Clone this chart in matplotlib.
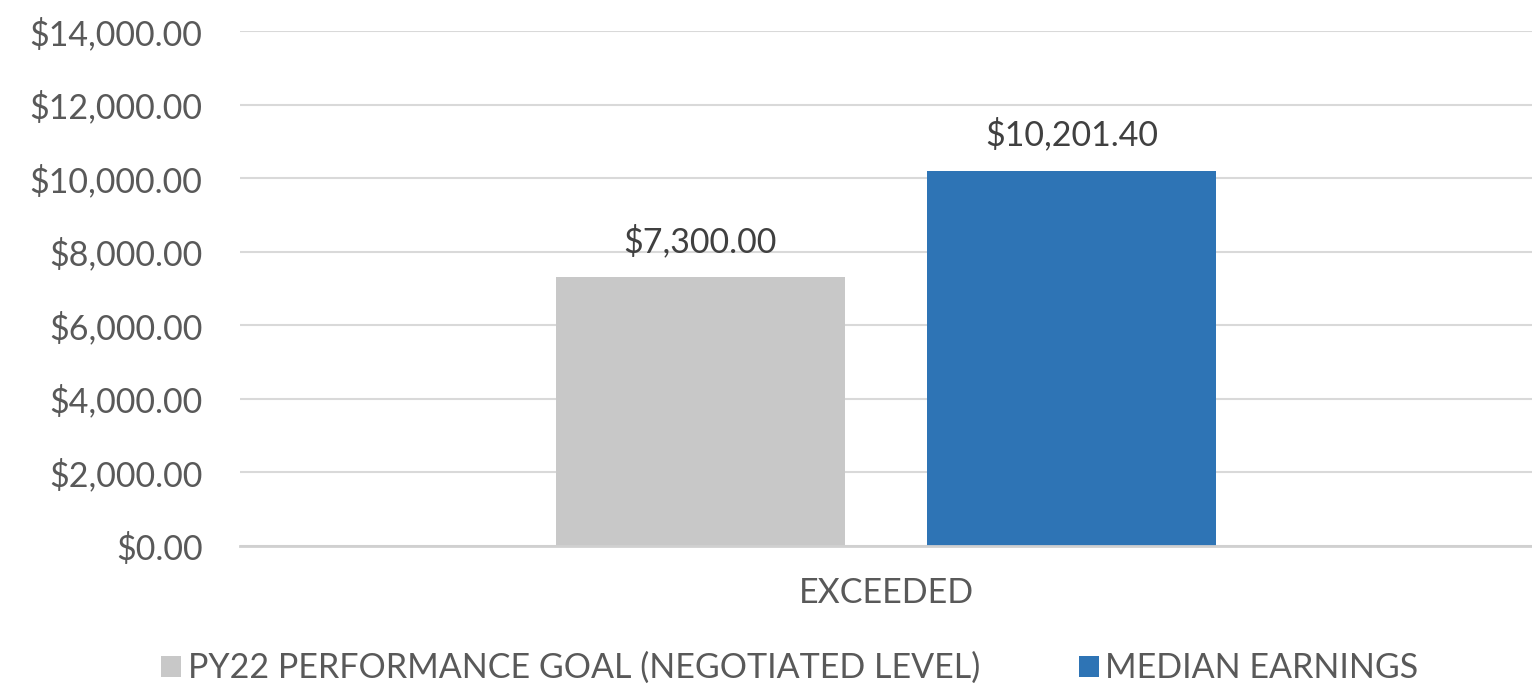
import matplotlib
matplotlib.use("Agg")
import matplotlib.pyplot as plt
from matplotlib.patches import Patch

categories = ["EXCEEDED"]
series_names = ["PY22 PERFORMANCE GOAL (NEGOTIATED LEVEL)", "MEDIAN EARNINGS"]
goal_values = [7300.00]
median_values = [10201.40]
y_ticks = [0, 2000, 4000, 6000, 8000, 10000, 12000, 14000]
colors = ["#c8c8c8", "#2e74b5"]

plt.rcParams['font.family'] = ['Lato', 'DejaVu Sans']
text_color = "#595959"
fs = 24.5

fig = plt.figure(figsize=(15.32, 6.91), dpi=100)
ax = fig.add_axes([240/1532, 1-546/691, 1-240/1532, (546-31)/691])

width = 0.2237
offset = 0.1436
x = list(range(len(categories)))
series = [goal_values, median_values]
offsets = [-offset, offset]
for vals, off, col, name in zip(series, offsets, colors, series_names):
    bars = ax.bar([xi + off for xi in x], vals, width=width, color=col, label=name, zorder=3)
    for b, v in zip(bars, vals):
        ax.text(b.get_x() + b.get_width()/2, v + 520, f"${v:,.2f}", ha="center", va="bottom",
                fontsize=fs, color="#404040")

ax.set_xlim(-0.5, 0.5)
ax.set_ylim(0, 14000)
ax.set_yticks(y_ticks)
ax.set_yticklabels([f"${t:,.2f}" for t in y_ticks])
ax.set_xticks(x)
ax.set_xticklabels(categories)
ax.tick_params(axis="both", length=0, labelsize=fs, colors=text_color)
ax.tick_params(axis="y", pad=27)
ax.tick_params(axis="x", pad=22)
ax.grid(axis="y", color="#d9d9d9", linewidth=1.5, zorder=0)
for s in ["top", "right", "left"]:
    ax.spines[s].set_visible(False)
ax.spines["bottom"].set_color("#d0d0d0")
ax.spines["bottom"].set_linewidth(2)
ax.spines["bottom"].set_zorder(4)

handles = [Patch(facecolor=c, label=n) for c, n in zip(colors, series_names)]
fig.legend(handles=handles, loc="center", bbox_to_anchor=(790/1532, 1-668/691), ncol=2,
           frameon=False, fontsize=fs, handlelength=0.58, handleheight=0.58, handletextpad=0.2,
           columnspacing=2.9, labelcolor=text_color, borderpad=0, borderaxespad=0)

fig.savefig("out.png", dpi=100)
